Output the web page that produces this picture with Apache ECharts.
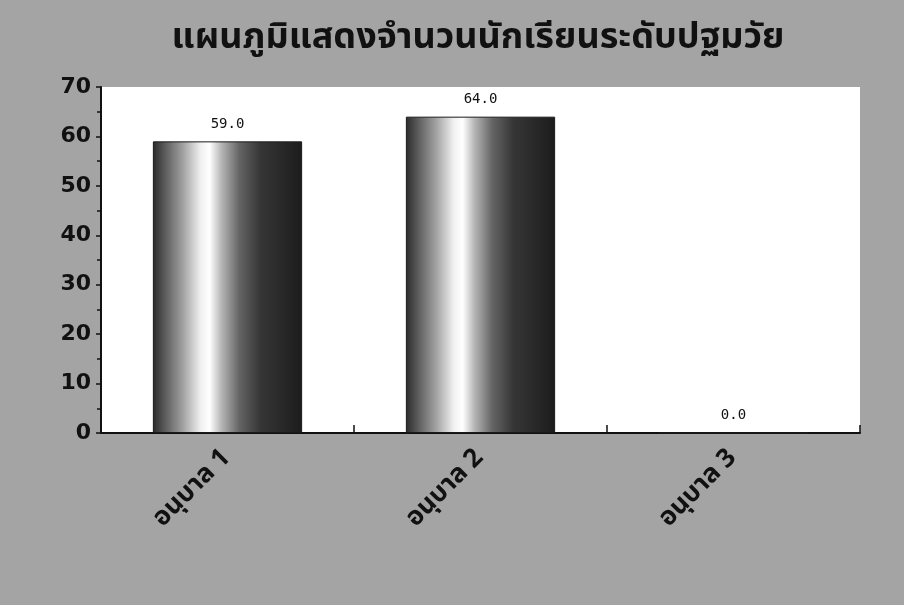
<!DOCTYPE html>
<html>
<head>
<meta charset="utf-8">
<script src="https://cdn.jsdelivr.net/npm/echarts@6/dist/echarts.min.js"></script>
<style>
html,body{margin:0;padding:0;background:#a4a4a4;}
#c{width:904px;height:605px;}
</style>
</head>
<body>
<div id="c"></div>
<script>
const titleText = 'แผนภูมิแสดงจำนวนนักเรียนระดับปฐมวัย';
const categories = ['อนุบาล 1', 'อนุบาล 2', 'อนุบาล 3'];
const values = [59.0, 64.0, 0.0];
const yMin = 0, yMax = 70, yStep = 10;

const chart = echarts.init(document.getElementById('c'));
const barGradient = new echarts.graphic.LinearGradient(0, 0, 1, 0, [
  {offset: 0, color: '#2a2a2a'},
  {offset: 0.07, color: '#555555'},
  {offset: 0.2, color: '#a0a0a0'},
  {offset: 0.32, color: '#f0f0f0'},
  {offset: 0.38, color: '#ffffff'},
  {offset: 0.46, color: '#b5b5b5'},
  {offset: 0.58, color: '#646464'},
  {offset: 0.72, color: '#363636'},
  {offset: 1, color: '#1c1c1c'}
]);
const thaiFont = '"Noto Sans Thai", Tahoma, "DejaVu Sans", sans-serif';
chart.setOption({
  backgroundColor: '#a4a4a4',
  title: {
    text: titleText,
    left: 473,
    textAlign: 'center',
    top: 18,
    textStyle: {fontSize: 36, fontWeight: 'bold', color: '#111', fontFamily: thaiFont}
  },
  grid: {left: 101, right: 44, top: 87, bottom: 172, show: true, backgroundColor: '#ffffff', borderWidth: 0},
  xAxis: {
    type: 'category',
    data: categories,
    axisLine: {lineStyle: {color: '#111', width: 2}},
    axisTick: {show: true, inside: true, length: 8, lineStyle: {color: '#111', width: 1.5}},
    axisLabel: {rotate: 45, fontSize: 26, fontWeight: 'bold', color: '#111', margin: 22, fontFamily: thaiFont}
  },
  yAxis: {
    type: 'value',
    min: yMin, max: yMax, interval: yStep,
    splitLine: {show: false},
    axisLine: {show: true, lineStyle: {color: '#111', width: 2}},
    axisTick: {show: true, length: 5, lineStyle: {color: '#111', width: 1.5}},
    minorTick: {show: true, splitNumber: 2, length: 4, lineStyle: {color: '#111', width: 1.5}},
    axisLabel: {fontSize: 22, color: '#111', margin: 10, fontWeight: 'bold', fontFamily: 'Verdana, "DejaVu Sans", sans-serif'}
  },
  series: [{
    type: 'bar',
    data: values,
    barWidth: '59%',
    itemStyle: {color: barGradient, borderColor: '#1a1a1a', borderWidth: 1},
    label: {
      show: true, position: 'top', distance: 10,
      formatter: p => p.value.toFixed(1),
      fontSize: 14, color: '#111', fontFamily: '"DejaVu Sans Mono", monospace'
    }
  }]
});
</script>
</body>
</html>
